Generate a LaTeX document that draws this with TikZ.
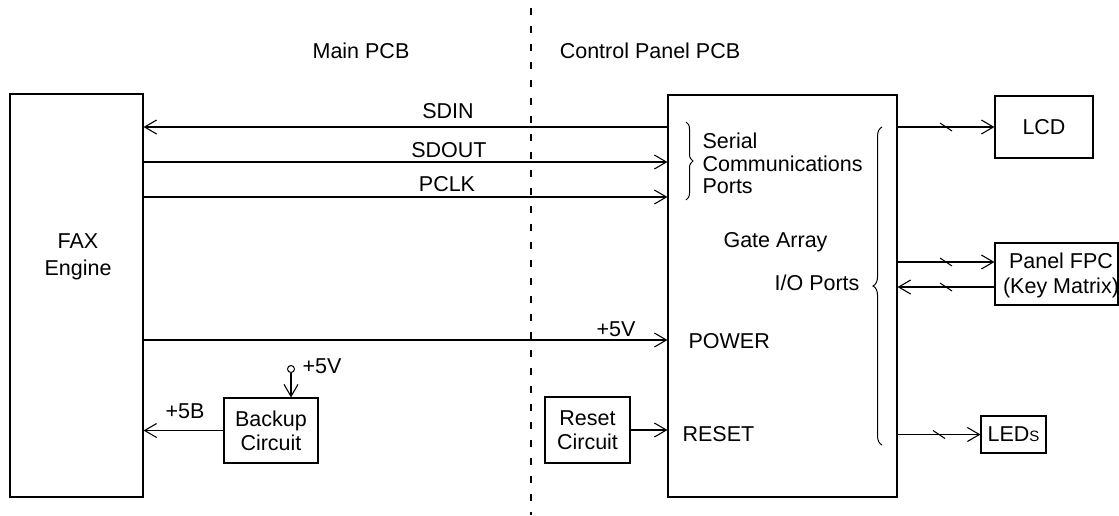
\documentclass[tikz,border=0pt]{standalone}
\usepackage{fontspec}
\setmainfont{Liberation Sans}
\usetikzlibrary{arrows.meta,decorations.pathreplacing,calc}
\newcommand\dfont{\fontsize{21.5}{24}\selectfont}
\begin{document}
\begin{tikzpicture}[x=1pt,y=-1pt,line width=1.1pt,
  every node/.style={font=\dfont, inner sep=0pt},
  blk/.style={draw},
  arr/.style={-{Straight Barb[length=12pt,width=14pt]}},
  slashmark/.style={line width=1pt},
  bracemark/.style={line width=1pt,decorate,decoration={brace,amplitude=#1}}]
\useasboundingbox (0,0) rectangle (1119,515);
% boxes
\node[blk,minimum width=133pt,minimum height=403pt] (fax) at (76.5,295.5) {};
\node[blk,minimum width=229pt,minimum height=402pt] (ga) at (782.5,296) {};
\node[blk,minimum width=98pt,minimum height=62pt] (lcd) at (1044,127) {LCD};
\node[blk,minimum width=123pt,minimum height=62pt] (fpc) at (1056.5,274) {};
\node[blk,minimum width=65pt,minimum height=37pt] (leds) at (1013.5,434.5) {LED{\fontsize{15}{15}\selectfont S}};
\node[blk,minimum width=94pt,minimum height=65pt,align=center] (backup) at (271,430.5) {Backup\\Circuit};
\node[blk,minimum width=85pt,minimum height=66pt,align=center] (reset) at (587.5,430) {Reset\\Circuit};
\node[draw,circle,minimum size=7pt,line width=1pt] (term) at (291,369) {};
% divider
\coordinate (dt) at (531,8);
\coordinate (db) at (531,515);
\draw[line width=1.1pt,dash pattern=on 7pt off 11pt] (dt) -- (db);
% rows
\coordinate (r1) at (0,127);
\coordinate (r2) at (0,162);
\coordinate (r3) at (0,197);
\coordinate (r4) at (0,340);
\coordinate (f1) at (0,262);
\coordinate (f2) at (0,287);
\draw[arr] (ga.west |- r1) -- (fax.east |- r1);
\draw[arr] (fax.east |- r2) -- (ga.west |- r2);
\draw[arr] (fax.east |- r3) -- (ga.west |- r3);
\draw[arr] (fax.east |- r4) -- (ga.west |- r4);
\draw[arr] (backup.west) -- (fax.east |- backup.west);
\draw[arr] (term.south) -- (term.south |- backup.north);
\draw[arr] (reset.east) -- (ga.west |- reset.east);
\draw[arr] (ga.east |- lcd.west) -- (lcd.west) coordinate[pos=.5] (s1);
\draw[arr] (ga.east |- f1) -- (fpc.west |- f1) coordinate[pos=.5] (s2);
\draw[arr] (fpc.west |- f2) -- (ga.east |- f2) coordinate[pos=.5] (s3);
\draw[arr] (ga.east |- leds.west) -- (leds.west) coordinate[pos=.5] (s4);
\foreach \s in {s1,s2,s3,s4} \draw[slashmark] (\s) ++(-6,-4) -- ++(12,8);
% braces
\coordinate (b1) at (686,122);
\coordinate (b2) at (686,200);
\draw[bracemark=7pt] (b1) -- (b2);
\coordinate (b3) at (882,445);
\coordinate (b4) at (882,127);
\draw[bracemark=9pt] (b3) -- (b4);
% texts
\node[anchor=base] (tmain) at (361,58) {Main PCB};
\node[anchor=base] (tcp) at (650,58) {Control Panel PCB};
\node[anchor=base] (tsdin) at (448,118) {SDIN};
\node[anchor=base] (tsdout) at (449,157) {SDOUT};
\node[anchor=base] (tpclk) at (447,191) {PCLK};
\node[anchor=base] (t5v) at (616,336) {+5V};
\node[anchor=base west] (tpower) at (688,348) {POWER};
\node[anchor=base west] (tga) at (723,247) {Gate Array};
\node[anchor=base east] (tio) at (860,290) {I/O Ports};
\node[anchor=base west] (treset) at (682,441) {RESET};
\node[anchor=base] (t5b) at (185,418) {+5B};
\node[anchor=base west] (t5vb) at (302,373) {+5V};
\node[align=center] (tfax) at (78,257) {FAX\\[3pt]Engine};
\node[align=center] (tfpc) at (1061,275) {Panel FPC\\[1pt](Key Matrix)};
\node[align=left,anchor=north west,font=\fontsize{21.5}{22.5}\selectfont] (tser) at (702,132.5) {Serial\\Communications\\Ports};
\end{tikzpicture}
\end{document}
